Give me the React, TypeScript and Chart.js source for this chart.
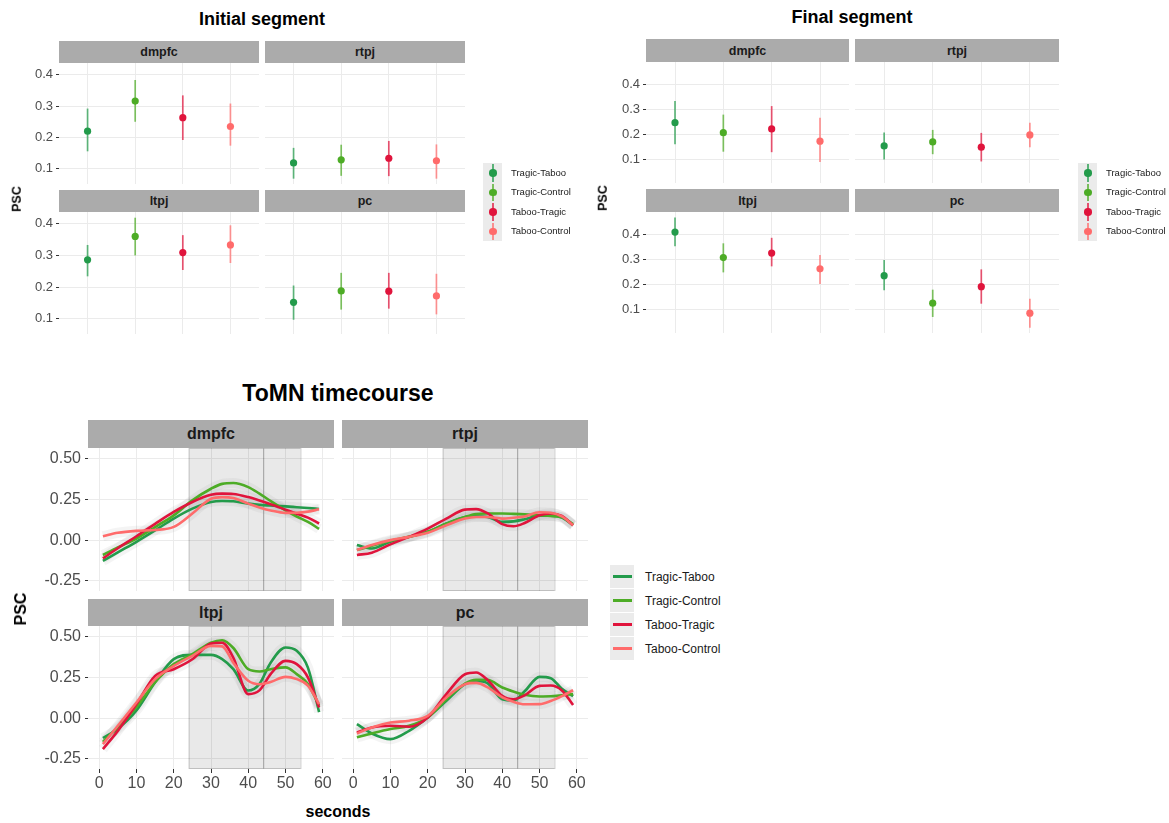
import React, { useEffect, useRef } from 'react';
import { Chart, registerables } from 'chart.js';
Chart.register(...registerables);

// ---------- shared ----------
const conditions = ['Tragic-Taboo', 'Tragic-Control', 'Taboo-Tragic', 'Taboo-Control'];
const conditionColors = ['#239b4b', '#4dac26', '#e0143c', '#ff6b6b'];
const conditionPositions = [1, 2, 3, 4];
const regionNames = ['dmpfc', 'rtpj', 'ltpj', 'pc'];
const segmentYTicks = [0.1, 0.2, 0.3, 0.4];

// ---------- Initial segment (mean, low, high per condition) ----------
const initialDmpfcMean = [0.220, 0.316, 0.263, 0.235];
const initialDmpfcLow = [0.156, 0.250, 0.192, 0.174];
const initialDmpfcHigh = [0.292, 0.383, 0.334, 0.308];
const initialRtpjMean = [0.119, 0.129, 0.134, 0.126];
const initialRtpjLow = [0.069, 0.078, 0.077, 0.069];
const initialRtpjHigh = [0.167, 0.177, 0.189, 0.178];
const initialLtpjMean = [0.286, 0.360, 0.309, 0.333];
const initialLtpjLow = [0.234, 0.300, 0.254, 0.276];
const initialLtpjHigh = [0.333, 0.419, 0.364, 0.395];
const initialPcMean = [0.152, 0.188, 0.187, 0.172];
const initialPcLow = [0.097, 0.129, 0.132, 0.114];
const initialPcHigh = [0.205, 0.245, 0.245, 0.242];

// ---------- Final segment ----------
const finalDmpfcMean = [0.246, 0.206, 0.221, 0.172];
const finalDmpfcLow = [0.160, 0.130, 0.128, 0.089];
const finalDmpfcHigh = [0.332, 0.278, 0.312, 0.265];
const finalRtpjMean = [0.153, 0.169, 0.148, 0.197];
const finalRtpjLow = [0.099, 0.120, 0.091, 0.148];
const finalRtpjHigh = [0.207, 0.217, 0.205, 0.246];
const finalLtpjMean = [0.408, 0.306, 0.324, 0.261];
const finalLtpjLow = [0.351, 0.247, 0.271, 0.201];
const finalLtpjHigh = [0.466, 0.363, 0.385, 0.316];
const finalPcMean = [0.234, 0.124, 0.190, 0.084];
const finalPcLow = [0.176, 0.069, 0.122, 0.026];
const finalPcHigh = [0.296, 0.178, 0.259, 0.142];

// ---------- ToMN timecourse ----------
const tcSeconds = [1, 5, 10, 15, 20, 25, 30, 33, 36, 40, 43, 46, 50, 53, 56, 59];
const tcXTicks = [0, 10, 20, 30, 40, 50, 60];
const tcYTicks = [-0.25, 0, 0.25, 0.5];
const shadeRegions = [[24, 44], [44, 54]];

const tcDmpfcTragicTaboo = [-0.128, -0.075, -0.010, 0.060, 0.132, 0.193, 0.234, 0.240, 0.238, 0.224, 0.216, 0.212, 0.207, 0.202, 0.197, 0.191];
const tcDmpfcTragicControl = [-0.091, -0.045, 0.010, 0.080, 0.152, 0.244, 0.315, 0.345, 0.350, 0.325, 0.285, 0.240, 0.183, 0.145, 0.112, 0.069];
const tcDmpfcTabooTragic = [-0.112, -0.050, 0.024, 0.100, 0.173, 0.234, 0.278, 0.285, 0.283, 0.264, 0.243, 0.220, 0.187, 0.162, 0.138, 0.102];
const tcDmpfcTabooControl = [0.024, 0.045, 0.057, 0.062, 0.081, 0.163, 0.254, 0.264, 0.258, 0.224, 0.200, 0.182, 0.167, 0.168, 0.175, 0.189];

const tcRtpjTragicTaboo = [-0.030, -0.051, -0.010, 0.020, 0.051, 0.102, 0.142, 0.146, 0.142, 0.112, 0.115, 0.128, 0.150, 0.150, 0.138, 0.091];
const tcRtpjTragicControl = [-0.061, -0.035, -0.004, 0.020, 0.051, 0.100, 0.142, 0.160, 0.163, 0.163, 0.161, 0.158, 0.152, 0.148, 0.140, 0.098];
const tcRtpjTabooTragic = [-0.091, -0.077, -0.026, 0.020, 0.071, 0.132, 0.187, 0.190, 0.165, 0.098, 0.085, 0.105, 0.152, 0.163, 0.148, 0.091];
const tcRtpjTabooControl = [-0.061, -0.030, 0.000, 0.020, 0.045, 0.091, 0.132, 0.142, 0.142, 0.132, 0.137, 0.145, 0.171, 0.168, 0.145, 0.091];

const tcLtpjTragicTaboo = [-0.122, -0.065, 0.047, 0.220, 0.362, 0.388, 0.388, 0.362, 0.300, 0.169, 0.210, 0.340, 0.433, 0.413, 0.310, 0.037];
const tcLtpjTragicControl = [-0.146, -0.055, 0.067, 0.220, 0.331, 0.392, 0.463, 0.478, 0.430, 0.300, 0.286, 0.300, 0.311, 0.270, 0.210, 0.076];
const tcLtpjTabooTragic = [-0.190, -0.078, 0.086, 0.259, 0.300, 0.361, 0.457, 0.462, 0.370, 0.147, 0.170, 0.270, 0.351, 0.331, 0.250, 0.065];
const tcLtpjTabooControl = [-0.159, -0.047, 0.096, 0.239, 0.320, 0.382, 0.443, 0.440, 0.340, 0.229, 0.208, 0.222, 0.253, 0.239, 0.200, 0.086];

const tcPcTragicTaboo = [-0.037, -0.094, -0.129, -0.078, 0.004, 0.106, 0.208, 0.228, 0.215, 0.116, 0.108, 0.165, 0.253, 0.245, 0.180, 0.135];
const tcPcTragicControl = [-0.118, -0.094, -0.067, -0.047, 0.004, 0.116, 0.212, 0.235, 0.235, 0.188, 0.163, 0.143, 0.133, 0.134, 0.140, 0.147];
const tcPcTabooTragic = [-0.088, -0.057, -0.047, -0.053, 0.004, 0.147, 0.269, 0.280, 0.235, 0.137, 0.116, 0.140, 0.198, 0.200, 0.170, 0.080];
const tcPcTabooControl = [-0.094, -0.057, -0.027, -0.016, 0.014, 0.127, 0.208, 0.216, 0.190, 0.127, 0.100, 0.085, 0.086, 0.105, 0.135, 0.171];

// ---------- helpers ----------
const FONT = "'Liberation Sans', Arial, Helvetica, sans-serif";
const GRID = '#ebebeb';
const TICKTEXT = '#4d4d4d';

function alpha(hex: string, a: number) {
  const n = parseInt(hex.slice(1), 16);
  return `rgba(${(n >> 16) & 255},${(n >> 8) & 255},${n & 255},${a})`;
}

const shadePlugin = {
  id: 'shadeRegions',
  beforeDatasetsDraw(chart: any) {
    const { ctx, chartArea, scales } = chart;
    const x = scales.x;
    ctx.save();
    shadeRegions.forEach(([a, b]) => {
      const x0 = x.getPixelForValue(a);
      const x1 = x.getPixelForValue(b);
      ctx.fillStyle = 'rgba(0,0,0,0.085)';
      ctx.fillRect(x0, chartArea.top, x1 - x0, chartArea.bottom - chartArea.top);
      ctx.strokeStyle = 'rgba(0,0,0,0.18)';
      ctx.lineWidth = 1;
      ctx.strokeRect(x0 + 0.5, chartArea.top + 0.5, x1 - x0, chartArea.bottom - chartArea.top - 1);
    });
    ctx.restore();
  },
};

type Pad = { l: number; r: number; t: number; b: number };

function zeroPadding(s: any) {
  s.paddingTop = 0;
  s.paddingBottom = 0;
  s.paddingLeft = 0;
  s.paddingRight = 0;
}

function yAxis(showLabels: boolean, padL: number, min: number, max: number, ticks: number[], digits: number, fontSize: number, labelPad: number) {
  return {
    type: 'linear',
    min,
    max,
    afterBuildTicks: (s: any) => {
      s.ticks = ticks.map((v) => ({ value: v }));
    },
    afterFit: (s: any) => {
      s.width = padL;
      zeroPadding(s);
    },
    ticks: {
      display: showLabels,
      color: TICKTEXT,
      font: { family: FONT, size: fontSize },
      padding: labelPad,
      callback: (v: any) => Number(v).toFixed(digits),
    },
    grid: { color: GRID, lineWidth: 1, drawTicks: showLabels, tickLength: 3, tickColor: '#333333', tickWidth: 1 },
    border: { display: false },
  };
}

function xAxis(showLabels: boolean, padB: number, min: number, max: number, ticks: number[], fontSize: number) {
  return {
    type: 'linear',
    min,
    max,
    afterBuildTicks: (s: any) => {
      s.ticks = ticks.map((v) => ({ value: v }));
    },
    afterFit: (s: any) => {
      s.height = padB;
      zeroPadding(s);
    },
    ticks: {
      display: showLabels,
      autoSkip: false,
      maxRotation: 0,
      color: TICKTEXT,
      font: { family: FONT, size: fontSize },
      padding: 1,
      callback: (v: any) => String(v),
    },
    grid: { color: GRID, lineWidth: 1, drawTicks: showLabels, tickLength: 4, tickColor: '#333333', tickWidth: 1 },
    border: { display: false },
  };
}

function baseOptions(pad: Pad, scales: any) {
  return {
    animation: false,
    responsive: false,
    devicePixelRatio: 1,
    layout: { autoPadding: false, padding: { left: 0, right: pad.r, top: pad.t, bottom: 0 } },
    plugins: { legend: { display: false }, tooltip: { enabled: false }, title: { display: false } },
    scales,
  };
}

function segmentConfig(mean: number[], low: number[], high: number[], showY: boolean, yMin: number, yMax: number, pad: Pad) {
  const datasets: any[] = [];
  conditions.forEach((c, i) => {
    datasets.push({
      type: 'line',
      label: c + ' range',
      data: [
        { x: conditionPositions[i], y: low[i] },
        { x: conditionPositions[i], y: high[i] },
      ],
      borderColor: alpha(conditionColors[i], 0.72),
      borderWidth: 1.7,
      pointRadius: 0,
      order: 5,
    });
    datasets.push({
      type: 'scatter',
      label: c,
      data: [{ x: conditionPositions[i], y: mean[i] }],
      backgroundColor: conditionColors[i],
      borderColor: conditionColors[i],
      borderWidth: 0,
      pointRadius: 3.6,
      order: 1,
    });
  });
  return {
    type: 'scatter',
    data: { datasets },
    options: baseOptions(pad, {
      x: xAxis(false, pad.b, 0.4, 4.6, conditionPositions, 10),
      y: yAxis(showY, pad.l, yMin, yMax, segmentYTicks, 1, 13, 3),
    }),
  };
}

function timecourseConfig(series: number[][], showY: boolean, showX: boolean, pad: Pad) {
  const datasets: any[] = [];
  series.forEach((vals, i) => {
    const pts = tcSeconds.map((s, k) => ({ x: s, y: vals[k] }));
    datasets.push({
      type: 'line',
      label: conditions[i] + ' band',
      data: pts,
      borderColor: 'rgba(110,110,110,0.08)',
      borderWidth: 10,
      pointRadius: 0,
      cubicInterpolationMode: 'monotone',
      order: 10,
    });
    datasets.push({
      type: 'line',
      label: conditions[i],
      data: pts,
      borderColor: conditionColors[i],
      borderWidth: 2.6,
      pointRadius: 0,
      cubicInterpolationMode: 'monotone',
      order: 4 - i,
    });
  });
  return {
    type: 'scatter',
    data: { datasets },
    options: baseOptions(pad, {
      x: xAxis(showX, pad.b, -3, 63, tcXTicks, 16),
      y: yAxis(showY, pad.l, -0.312, 0.565, tcYTicks, 2, 16, 4),
    }),
    plugins: [shadePlugin],
  };
}

function ChartPanel(props: { left: number; top: number; width: number; height: number; pad: Pad; build: (pad: Pad) => any }) {
  const ref = useRef<HTMLCanvasElement>(null);
  const { left, top, width, height, pad, build } = props;
  useEffect(() => {
    const chart = new Chart(ref.current as HTMLCanvasElement, build(pad));
    return () => chart.destroy();
  }, []);
  const W = width + pad.l + pad.r;
  const H = height + pad.t + pad.b;
  return (
    <canvas
      ref={ref}
      width={W}
      height={H}
      style={{ position: 'absolute', left: left - pad.l, top: top - pad.t, width: W, height: H }}
    />
  );
}

function Strip(props: { left: number; top: number; width: number; height: number; text: string; size: number }) {
  const { left, top, width, height, text, size } = props;
  return (
    <div
      style={{
        position: 'absolute',
        left,
        top,
        width,
        height,
        background: '#ababab',
        color: '#1a1a1a',
        fontWeight: 'bold',
        fontSize: size,
        fontFamily: FONT,
        display: 'flex',
        alignItems: 'center',
        justifyContent: 'center',
      }}
    >
      {text}
    </div>
  );
}

function CenterText(props: { x: number; y: number; text: string; size: number; rotate?: boolean }) {
  const { x, y, text, size, rotate } = props;
  return (
    <div
      style={{
        position: 'absolute',
        left: x,
        top: y,
        transform: `translate(-50%, -50%)${rotate ? ' rotate(-90deg)' : ''}`,
        fontFamily: FONT,
        fontWeight: 'bold',
        fontSize: size,
        color: '#000',
        whiteSpace: 'nowrap',
        lineHeight: 1,
      }}
    >
      {text}
    </div>
  );
}

function PointLegend(props: { left: number; top: number; textLeft: number }) {
  const { left, top, textLeft } = props;
  const row = 19.5;
  return (
    <>
      {conditions.map((c, i) => (
        <React.Fragment key={c}>
          <div style={{ position: 'absolute', left, top: top + i * row, width: 19, height: row, background: '#ebebeb' }}>
            <div style={{ position: 'absolute', left: 9, top: 1, width: 1.5, height: row - 2, background: alpha(conditionColors[i], 0.72) }} />
            <div style={{ position: 'absolute', left: 6, top: row / 2 - 3.5, width: 7.5, height: 7.5, borderRadius: '50%', background: conditionColors[i] }} />
          </div>
          <div
            style={{
              position: 'absolute',
              left: textLeft,
              top: top + i * row + row / 2,
              transform: 'translateY(-50%)',
              fontFamily: FONT,
              fontSize: 9.5,
              color: '#1a1a1a',
              whiteSpace: 'nowrap',
              lineHeight: 1,
            }}
          >
            {c}
          </div>
        </React.Fragment>
      ))}
    </>
  );
}

function LineLegend(props: { left: number; top: number; textLeft: number }) {
  const { left, top, textLeft } = props;
  const row = 24;
  return (
    <>
      {conditions.map((c, i) => (
        <React.Fragment key={c}>
          <div style={{ position: 'absolute', left, top: top + i * row, width: 24, height: row - 1, background: '#ebebeb' }}>
            <div style={{ position: 'absolute', left: 2.5, top: row / 2 - 2, width: 19, height: 2.8, background: conditionColors[i] }} />
          </div>
          <div
            style={{
              position: 'absolute',
              left: textLeft,
              top: top + i * row + row / 2 - 0.5,
              transform: 'translateY(-50%)',
              fontFamily: FONT,
              fontSize: 12,
              color: '#1a1a1a',
              whiteSpace: 'nowrap',
              lineHeight: 1,
            }}
          >
            {c}
          </div>
        </React.Fragment>
      ))}
    </>
  );
}

export default function App() {
  const padLeftCol: Pad = { l: 50, r: 10, t: 6, b: 0 };
  const padRightCol: Pad = { l: 0, r: 10, t: 6, b: 0 };
  const tcPadTopL: Pad = { l: 85, r: 10, t: 10, b: 0 };
  const tcPadTopR: Pad = { l: 0, r: 12, t: 10, b: 0 };
  const tcPadBotL: Pad = { l: 85, r: 10, t: 10, b: 28 };
  const tcPadBotR: Pad = { l: 0, r: 12, t: 10, b: 28 };

  const iMin = 0.052, iMax = 0.437;
  const fMin = 0.005, fMax = 0.488;

  return (
    <div style={{ position: 'absolute', left: 0, top: 0, width: 1169, height: 823, background: '#fff', overflow: 'hidden' }}>
      {/* Initial segment */}
      <CenterText x={262} y={19} text="Initial segment" size={18} />
      <Strip left={59} top={41} width={200} height={22} text={regionNames[0]} size={12.5} />
      <Strip left={265} top={41} width={200} height={22} text={regionNames[1]} size={12.5} />
      <Strip left={59} top={190} width={200} height={22} text={regionNames[2]} size={12.5} />
      <Strip left={265} top={190} width={200} height={22} text={regionNames[3]} size={12.5} />
      <ChartPanel left={59} top={63} width={200} height={121} pad={padLeftCol} build={(p) => segmentConfig(initialDmpfcMean, initialDmpfcLow, initialDmpfcHigh, true, iMin, iMax, p)} />
      <ChartPanel left={265} top={63} width={200} height={121} pad={padRightCol} build={(p) => segmentConfig(initialRtpjMean, initialRtpjLow, initialRtpjHigh, false, iMin, iMax, p)} />
      <ChartPanel left={59} top={212} width={200} height={122} pad={padLeftCol} build={(p) => segmentConfig(initialLtpjMean, initialLtpjLow, initialLtpjHigh, true, iMin, iMax, p)} />
      <ChartPanel left={265} top={212} width={200} height={122} pad={padRightCol} build={(p) => segmentConfig(initialPcMean, initialPcLow, initialPcHigh, false, iMin, iMax, p)} />
      <CenterText x={17} y={199} text="PSC" size={12.5} rotate />
      <PointLegend left={483} top={163} textLeft={511} />

      {/* Final segment */}
      <CenterText x={852} y={17} text="Final segment" size={18} />
      <Strip left={646} top={39} width={203} height={23} text={regionNames[0]} size={12.5} />
      <Strip left={855} top={39} width={204} height={23} text={regionNames[1]} size={12.5} />
      <Strip left={646} top={189} width={203} height={23} text={regionNames[2]} size={12.5} />
      <Strip left={855} top={189} width={204} height={23} text={regionNames[3]} size={12.5} />
      <ChartPanel left={646} top={62} width={203} height={121} pad={padLeftCol} build={(p) => segmentConfig(finalDmpfcMean, finalDmpfcLow, finalDmpfcHigh, true, fMin, fMax, p)} />
      <ChartPanel left={855} top={62} width={204} height={121} pad={padRightCol} build={(p) => segmentConfig(finalRtpjMean, finalRtpjLow, finalRtpjHigh, false, fMin, fMax, p)} />
      <ChartPanel left={646} top={212} width={203} height={121} pad={padLeftCol} build={(p) => segmentConfig(finalLtpjMean, finalLtpjLow, finalLtpjHigh, true, fMin, fMax, p)} />
      <ChartPanel left={855} top={212} width={204} height={121} pad={padRightCol} build={(p) => segmentConfig(finalPcMean, finalPcLow, finalPcHigh, false, fMin, fMax, p)} />
      <CenterText x={603} y={198} text="PSC" size={12.5} rotate />
      <PointLegend left={1078} top={163} textLeft={1106} />

      {/* ToMN timecourse */}
      <CenterText x={338} y={393} text="ToMN timecourse" size={23} />
      <Strip left={88} top={420} width={246} height={28} text={regionNames[0]} size={16} />
      <Strip left={342} top={420} width={246} height={28} text={regionNames[1]} size={16} />
      <Strip left={88} top={599} width={246} height={27} text={regionNames[2]} size={16} />
      <Strip left={342} top={599} width={246} height={27} text={regionNames[3]} size={16} />
      <ChartPanel left={88} top={448} width={246} height={143} pad={tcPadTopL} build={(p) => timecourseConfig([tcDmpfcTragicTaboo, tcDmpfcTragicControl, tcDmpfcTabooTragic, tcDmpfcTabooControl], true, false, p)} />
      <ChartPanel left={342} top={448} width={246} height={143} pad={tcPadTopR} build={(p) => timecourseConfig([tcRtpjTragicTaboo, tcRtpjTragicControl, tcRtpjTabooTragic, tcRtpjTabooControl], false, false, p)} />
      <ChartPanel left={88} top={626} width={246} height={143} pad={tcPadBotL} build={(p) => timecourseConfig([tcLtpjTragicTaboo, tcLtpjTragicControl, tcLtpjTabooTragic, tcLtpjTabooControl], true, true, p)} />
      <ChartPanel left={342} top={626} width={246} height={143} pad={tcPadBotR} build={(p) => timecourseConfig([tcPcTragicTaboo, tcPcTragicControl, tcPcTabooTragic, tcPcTabooControl], false, true, p)} />
      <CenterText x={21} y={609} text="PSC" size={16} rotate />
      <CenterText x={338} y={812} text="seconds" size={16} />
      <LineLegend left={610} top={565} textLeft={645} />
    </div>
  );
}
